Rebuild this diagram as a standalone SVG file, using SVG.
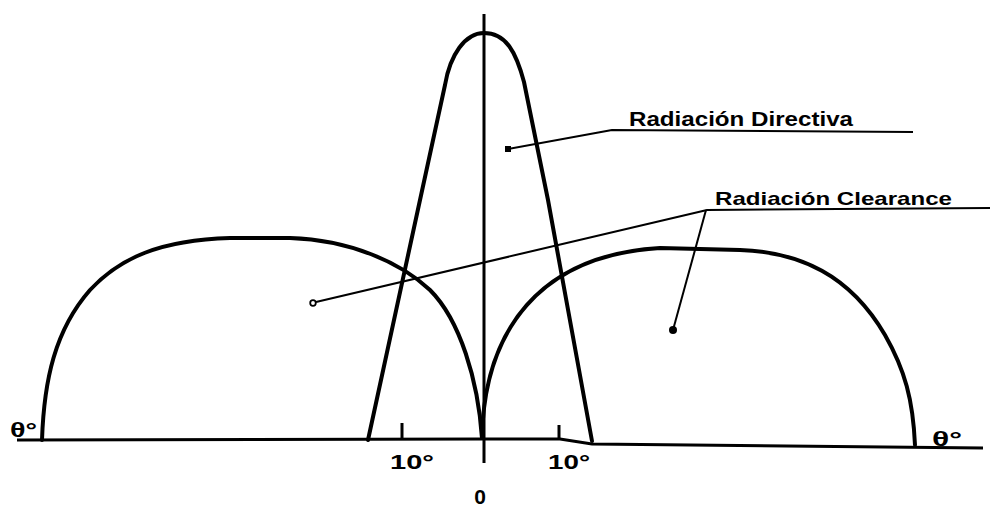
<svg xmlns="http://www.w3.org/2000/svg" width="990" height="507" viewBox="0 0 990 507">
<style>
.lobe{fill:none;stroke:#000;stroke-width:4;stroke-linecap:round;stroke-linejoin:round}
.axis{fill:none;stroke:#000;stroke-width:3}
.lead{fill:none;stroke:#000;stroke-width:2;stroke-linejoin:round}
.lbl{font-family:"Liberation Sans",Arial,sans-serif;font-weight:bold;fill:#000}
</style>
<rect width="990" height="507" fill="#fff"/>
<g id="axes">
<polyline class="axis" points="17,440 482,439 560,439 592,444 983,448"/>
<line class="axis" x1="484" y1="14" x2="484" y2="463"/>
<line class="axis" x1="402" y1="423" x2="402" y2="440"/>
<line class="axis" x1="559" y1="425" x2="559" y2="440"/>
</g>
<g id="directive-lobe">
<path class="lobe" d="M368,440 L420,200 L445,85 C450,55 465,33 484,33 C506,33 516,52 524,82 L548,200 L592,441"/>
</g>
<g id="clearance-left">
<path class="lobe" d="M42,440 C44,380 55,330 90,290 C120,258 160,240 230,238 L290,238 C350,240 400,262 430,290 C460,320 478,380 482,438"/>
</g>
<g id="clearance-right">
<path class="lobe" d="M482,438 C484,330 540,255 660,248 L740,250 C800,252 850,275 885,335 C905,370 913,400 915,445"/>
</g>
<g id="connectors">
<polyline class="lead" points="508,149 612,130 913,132"/>
<rect x="505" y="146" width="6" height="6" fill="#000"/>
<polyline class="lead" points="316,302 707,210 990,208"/>
<circle cx="313" cy="303" r="2.8" fill="#fff" stroke="#000" stroke-width="1.8"/>
<line class="lead" x1="706" y1="210" x2="673" y2="330"/>
<circle cx="673" cy="330" r="4" fill="#000"/>
</g>
<g id="labels">
<text class="lbl" x="629" y="126" font-size="20" textLength="224" lengthAdjust="spacingAndGlyphs">Radiación Directiva</text>
<text class="lbl" x="715" y="205" font-size="19" textLength="237" lengthAdjust="spacingAndGlyphs">Radiación Clearance</text>
<text class="lbl" x="390" y="469" font-size="21" textLength="44" lengthAdjust="spacingAndGlyphs">10°</text>
<text class="lbl" x="548" y="469" font-size="21" textLength="42" lengthAdjust="spacingAndGlyphs">10°</text>
<text class="lbl" x="480" y="504" font-size="21" text-anchor="middle">0</text>
<text class="lbl" x="10" y="437" font-size="21" textLength="27" lengthAdjust="spacingAndGlyphs">θ°</text>
<text class="lbl" x="932" y="446" font-size="21" textLength="30" lengthAdjust="spacingAndGlyphs">θ°</text>
</g>
</svg>
